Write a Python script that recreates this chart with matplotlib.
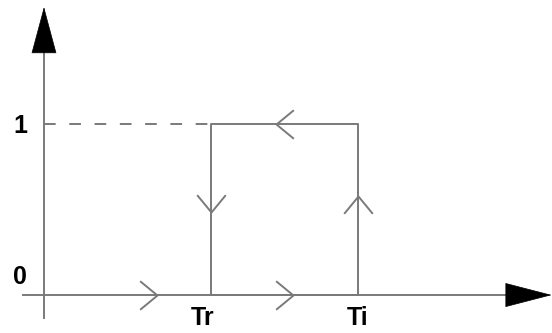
import numpy as np
import matplotlib
matplotlib.use('Agg')
import matplotlib.pyplot as plt
from matplotlib.path import Path

# switching temperatures (x) and output states (y)
Tr = 5.0
Ti = 9.4
states = [0, 1]

# hysteresis loop: up at Ti, down at Tr
loop_x = [Tr, Ti, Ti, Tr, Tr]
loop_y = [0, 0, 1, 1, 0]

# direction chevrons: (x, y, direction)
chev_x = [3.38, 7.46, 6.95, Tr, Ti]
chev_y = [0, 0, 1, 0.485, 0.58]
chev_dir = ['right', 'right', 'left', 'down', 'up']

tick_labels = ['0', '1']
temp_labels = ['Tr', 'Ti']

gray = '#7a7a7a'
plt.rcParams['font.family'] = ['Liberation Sans', 'DejaVu Sans']

fig = plt.figure(figsize=(5.52, 3.33), dpi=100)
ax = fig.add_axes([0, 0, 1, 1])
ax.set_xlim(-1.317, 15.21)
ax.set_ylim(-0.222, 1.725)
ax.axis('off')

# axes
ax.plot([-0.63, 13.9], [0, 0], color=gray, lw=1.4)
ax.plot([0, 0], [-0.135, 1.45], color=gray, lw=1.4)
ax.annotate('', xy=(15.2, 0), xytext=(13.86, 0),
            arrowprops=dict(arrowstyle='-|>,head_length=32,head_width=8.3',
                            mutation_scale=1, color='black', lw=0.5,
                            shrinkA=0, shrinkB=0))
ax.annotate('', xy=(0, 1.684), xytext=(0, 1.421),
            arrowprops=dict(arrowstyle='-|>,head_length=32,head_width=8.6',
                            mutation_scale=1, color='black', lw=0.5,
                            shrinkA=0, shrinkB=0))

# dashed level line
ax.plot([0, Tr], [1, 1], color=gray, lw=1.4, dashes=(6, 7))

# loop
ax.plot(loop_x, loop_y, color=gray, lw=1.4)

angles = {'right': 0, 'up': 90, 'left': 180, 'down': 270}
base = np.array([[-17, 14], [0, 0], [-17, -14]], dtype=float)
for x, y, d in zip(chev_x, chev_y, chev_dir):
    a = np.deg2rad(angles[d])
    rot = np.array([[np.cos(a), -np.sin(a)], [np.sin(a), np.cos(a)]])
    verts = base @ rot.T
    m = Path(verts, [Path.MOVETO, Path.LINETO, Path.LINETO])
    ax.plot([x], [y], marker=m, markersize=25, markerfacecolor='none',
            markeredgecolor=gray, markeredgewidth=1.4, linestyle='none')

# labels
for s, yv in zip(tick_labels, [0.105, 0.988]):
    ax.text(-0.72, yv, s, ha='center', va='center', fontsize=18, fontweight='bold')
for s, xv in zip(temp_labels, [Tr - 0.24, Ti]):
    ax.text(xv, -0.137, s, ha='center', va='center', fontsize=18, fontweight='bold')

fig.savefig('out.png', dpi=100)
